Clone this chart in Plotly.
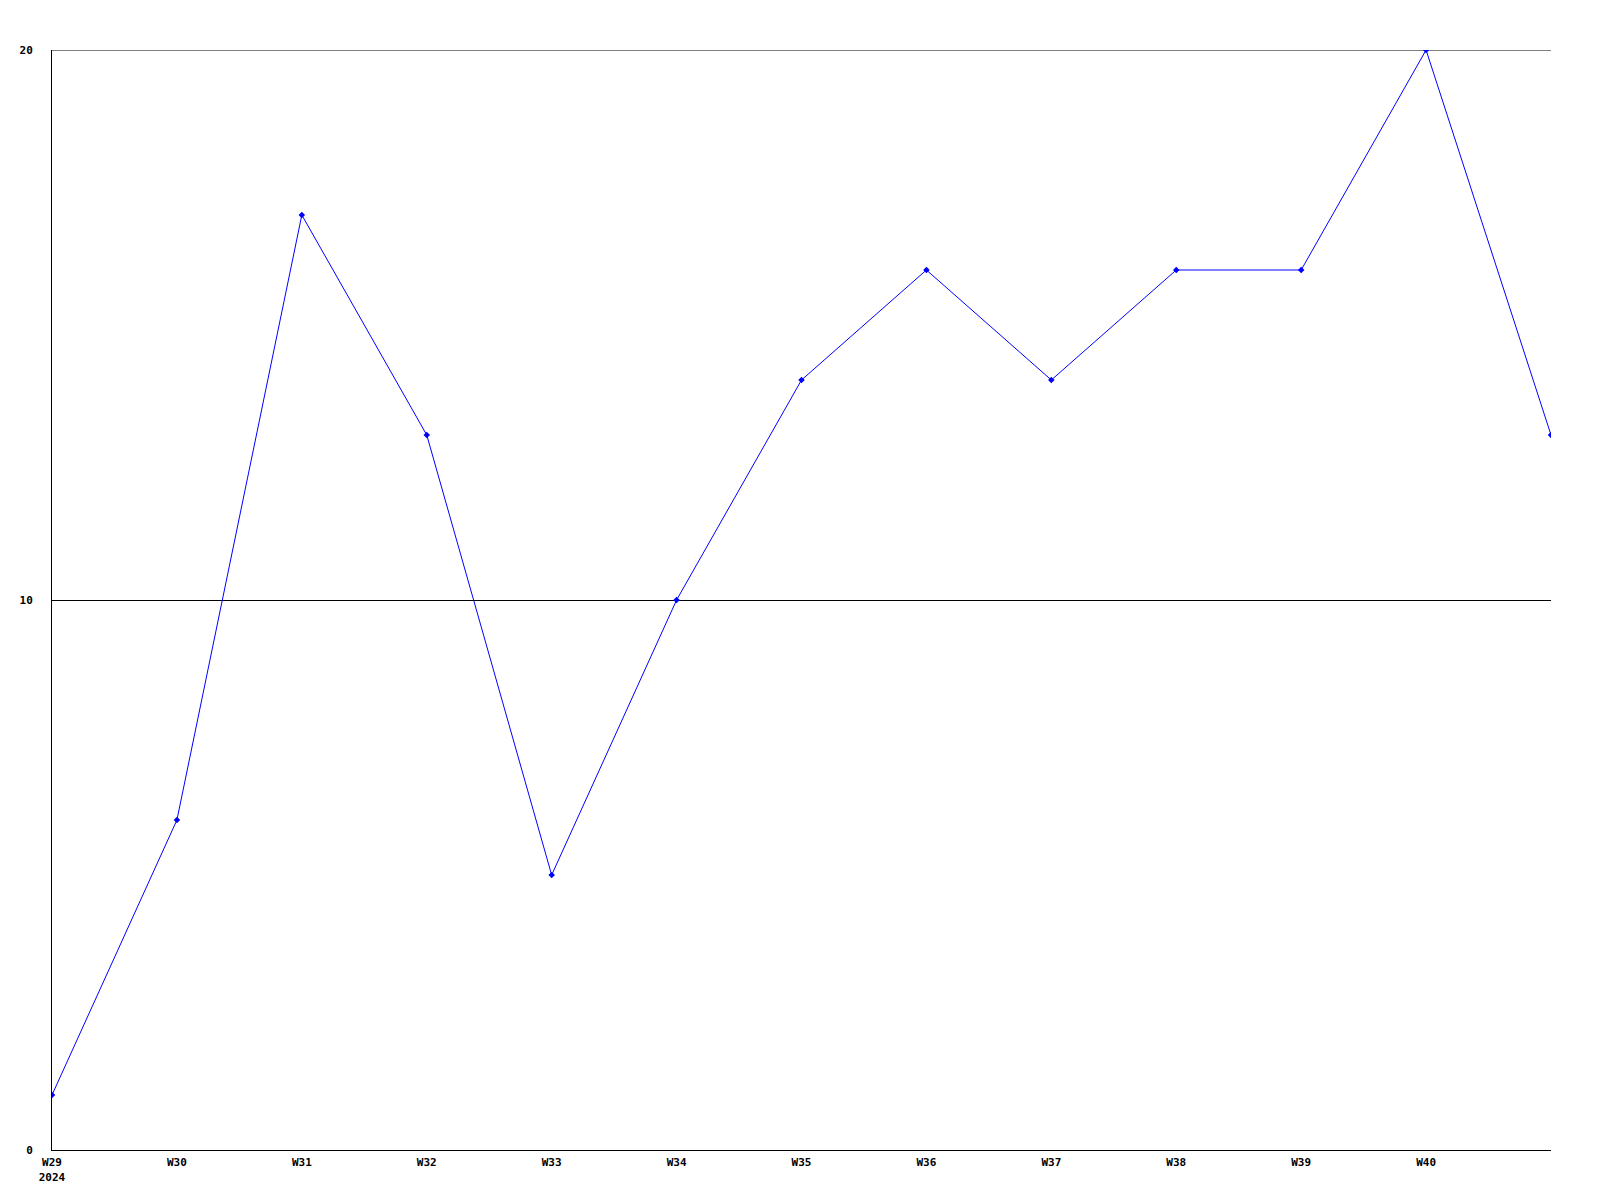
import plotly.graph_objects as go

weeks = ["W29", "W30", "W31", "W32", "W33", "W34", "W35", "W36", "W37", "W38", "W39", "W40", "W41"]
values = [1, 6, 17, 13, 5, 10, 14, 16, 14, 16, 16, 20, 13]
tick_labels = ["W29<br>2024", "W30", "W31", "W32", "W33", "W34", "W35", "W36", "W37", "W38", "W39", "W40"]
y_ticks = [0, 10, 20]

x = list(range(len(weeks)))

fig = go.Figure()
fig.add_trace(go.Scatter(
    x=x, y=values, mode="lines+markers",
    line=dict(color="#0000ff", width=1),
    marker=dict(symbol="diamond", size=5, color="#0000ff"),
    hoverinfo="x+y", showlegend=False,
))

font = dict(family="DejaVu Sans Mono", size=11, color="black", weight="bold")

# top gridline (plotly omits the grid line at the range edge)
fig.add_hline(y=y_ticks[-1], line=dict(color="black", width=1), layer="below")

fig.update_layout(
    width=1600, height=1200,
    margin=dict(l=42, r=57, t=42, b=58),
    plot_bgcolor="white", paper_bgcolor="white",
    font=font,
    xaxis=dict(
        range=[0, 12], tickmode="array", tickvals=list(range(len(tick_labels))),
        ticktext=tick_labels, showgrid=False, zeroline=False,
        showline=True, linecolor="black", linewidth=1,
        ticks="", tickfont=font, ticklabelstandoff=2,
    ),
    yaxis=dict(
        range=[0, 20], tickmode="array", tickvals=y_ticks,
        showgrid=True, gridcolor="black", gridwidth=1, zeroline=False,
        showline=True, linecolor="black", linewidth=1,
        ticks="", tickfont=font, ticklabelstandoff=16,
    ),
)

fig.write_html("out.html")
